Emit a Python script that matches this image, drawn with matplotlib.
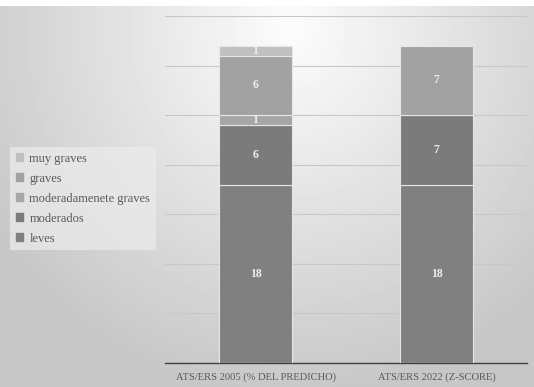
import numpy as np
import matplotlib
matplotlib.use('Agg')
import matplotlib.pyplot as plt
from matplotlib.patches import Patch

categories = ['ATS/ERS 2005 (% DEL PREDICHO)', 'ATS/ERS 2022 (Z-SCORE)']
series = ['leves', 'moderados', 'moderadamenete graves', 'graves', 'muy graves']
leves = [18, 18]
moderados = [6, 7]
mod_graves = [1, 0]
graves = [6, 7]
muy_graves = [1, 0]
values = [leves, moderados, mod_graves, graves, muy_graves]
colors = ['#808080', '#7b7b7b', '#a6a6a6', '#a2a2a2', '#c0c0c0']

plt.rcParams['font.family'] = ['Liberation Serif', 'DejaVu Serif']

fig = plt.figure(figsize=(5.34, 3.87), dpi=100)

# fondo degradado radial
bg = fig.add_axes([0, 0, 1, 1])
h, w = 387, 534
yy, xx = np.mgrid[0:h, 0:w]
r = np.sqrt(((xx - 290) / 400.0) ** 2 + ((yy - 30) / 420.0) ** 2)
shade = np.clip(0.99 - 0.24 * r, 0.78, 1.0)
shade[:6, :] = 1.0
bg.imshow(shade, cmap='gray', vmin=0, vmax=1, aspect='auto', interpolation='bilinear')
bg.axis('off')

ax = fig.add_axes([165 / 534, 24 / 387, 362 / 534, 347 / 387])
ax.patch.set_alpha(0)
x = np.arange(len(categories))
bottom = np.zeros(len(categories))
for name, vals, c in zip(series, values, colors):
    vals = np.array(vals, dtype=float)
    ax.bar(x, vals, 0.4, bottom=bottom, color=c, edgecolor='#e6e6e6', linewidth=0.8, label=name, zorder=3)
    for xi, v, b in zip(x, vals, bottom):
        if v > 0:
            ax.text(xi, b + v / 2, str(int(v)), ha='center', va='center', color='#eeeeee',
                    fontsize=8.5, fontweight='bold', zorder=4)
    bottom += vals

ax.set_xlim(-0.5, 1.5)
ax.set_ylim(0, 35)
ax.set_yticks(range(0, 36, 5))
ax.yaxis.grid(True, color='#c8c8c8', linewidth=0.8, zorder=0)
ax.tick_params(axis='y', left=False, labelleft=False)
ax.tick_params(axis='x', bottom=False, labelsize=7.6, labelcolor='#595959', pad=3)
ax.set_xticks(x)
ax.set_xticklabels(categories)
for s in ['top', 'right', 'left']:
    ax.spines[s].set_visible(False)
ax.spines['bottom'].set_color('#404040')
ax.spines['bottom'].set_linewidth(1.0)

handles = [Patch(color=c, label=n) for n, c in zip(series, colors)][::-1]
leg = fig.legend(handles=handles, loc='upper left', bbox_to_anchor=(10 / 534, 1 - 147 / 387),
                 borderaxespad=0, frameon=True, fontsize=9, handlelength=0.6, handleheight=0.6,
                 labelspacing=0.64, borderpad=0.45, handletextpad=0.5, labelcolor='#595959')
leg.get_frame().set_facecolor('#ececec')
leg.get_frame().set_edgecolor('none')
leg.get_frame().set_alpha(0.7)
leg.get_frame().set_boxstyle('square', pad=0)

fig.savefig('out.png', dpi=100)
